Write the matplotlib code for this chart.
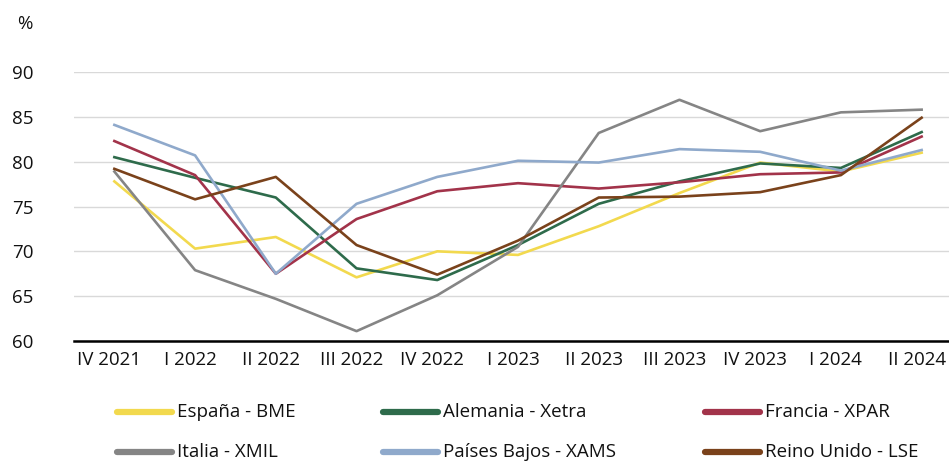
import matplotlib
matplotlib.use("Agg")
import matplotlib.pyplot as plt
from matplotlib.lines import Line2D
from matplotlib.transforms import ScaledTranslation

categories = ["IV 2021", "I 2022", "II 2022", "III 2022", "IV 2022", "I 2023",
              "II 2023", "III 2023", "IV 2023", "I 2024", "II 2024"]
espana = [77.8, 70.3, 71.6, 67.1, 70.0, 69.6, 72.8, 76.5, 79.9, 78.9, 81.0]
alemania = [80.5, 78.2, 76.0, 68.1, 66.8, 70.7, 75.3, 77.8, 79.8, 79.3, 83.3]
francia = [82.3, 78.5, 67.5, 73.6, 76.7, 77.6, 77.0, 77.7, 78.6, 78.8, 82.8]
italia = [78.9, 67.9, 64.7, 61.1, 65.1, 70.5, 83.2, 86.9, 83.4, 85.5, 85.8]
paises_bajos = [84.1, 80.7, 67.5, 75.3, 78.3, 80.1, 79.9, 81.4, 81.1, 79.0, 81.3]
reino_unido = [79.2, 75.8, 78.3, 70.7, 67.4, 71.2, 76.0, 76.1, 76.6, 78.5, 84.9]

series = [
    ("España - BME", espana, "#F2D94E"),
    ("Alemania - Xetra", alemania, "#2E6B4B"),
    ("Francia - XPAR", francia, "#A2334A"),
    ("Italia - XMIL", italia, "#858585"),
    ("Países Bajos - XAMS", paises_bajos, "#8FA9CB"),
    ("Reino Unido - LSE", reino_unido, "#7A421B"),
]

plt.rcParams['font.family'] = ['Open Sans', 'DejaVu Sans']

W, H = 949, 462
fig = plt.figure(figsize=(W / 100, H / 100), dpi=100)
ax = fig.add_axes([74 / W, 1 - 341 / H, (962 - 74) / W, (341 - 72) / H])

x = list(range(len(categories)))
for name, vals, col in series:
    ax.plot(x, vals, color=col, lw=1.9, label=name)

ax.set_xlim(-0.5, len(categories) - 0.5)
ax.set_ylim(60, 90)
ax.set_yticks([60, 65, 70, 75, 80, 85, 90])
ax.set_xticks(x)
ax.set_xticklabels(categories)
ax.grid(axis='y', color='#D9D9D9', lw=1.0)
ax.set_axisbelow(True)
for s in ['top', 'right', 'left']:
    ax.spines[s].set_visible(False)
ax.spines['bottom'].set_color('black')
ax.spines['bottom'].set_linewidth(1.8)
ax.tick_params(axis='both', length=0, labelsize=13.5, colors='#111111')
ax.tick_params(axis='y', pad=29)
ax.tick_params(axis='x', pad=7)
shift = ScaledTranslation(-5 / 100, 0, fig.dpi_scale_trans)
for lbl in ax.get_xticklabels():
    lbl.set_transform(lbl.get_transform() + shift)

fig.text(33 / W, 1 - 24 / H, "%", fontsize=13.5, ha='right', va='center', color='#111111')

# manual legend layout (row-major, 3 columns)
col_x = [117, 383, 705]
row_y = [412, 452]
hl = 55
for i, (name, _, col) in enumerate(series):
    r, c = divmod(i, 3)
    x0 = col_x[c]
    y0 = 1 - row_y[r] / H
    fig.add_artist(Line2D([x0 / W, (x0 + hl) / W], [y0, y0], color=col, lw=4.5,
                          solid_capstyle='round', transform=fig.transFigure))
    fig.text((x0 + hl + 5) / W, y0, name, fontsize=13.5, ha='left', va='center',
             color='#111111')

fig.savefig("out.png", dpi=100)
